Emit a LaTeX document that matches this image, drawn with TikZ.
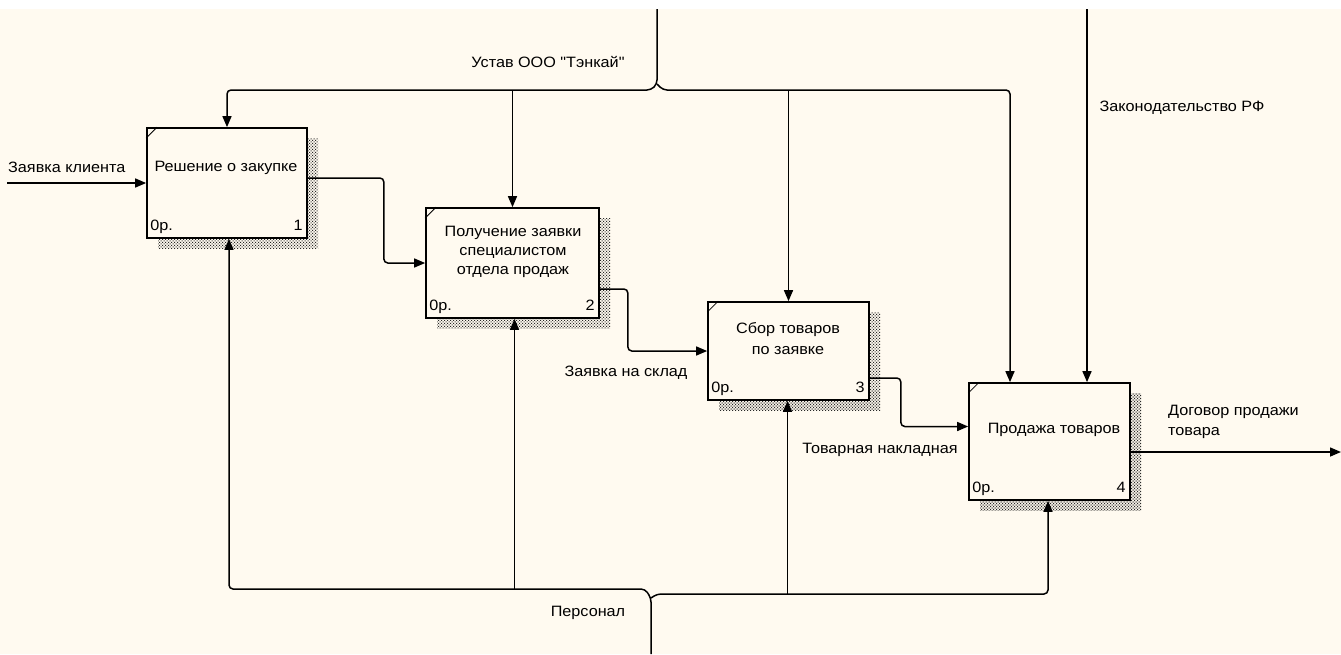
\documentclass[tikz,border=0pt]{standalone}
\usepackage{fontspec}
\setmainfont[FakeStretch=1.08, Ligatures=TeXOff]{Liberation Sans}
\usetikzlibrary{arrows.meta,calc,patterns}
\definecolor{paper}{RGB}{255,250,240}

% checkered shadow of the activity boxes
\pgfdeclarepatternformonly{shadowdots}{\pgfpoint{-1pt}{-1pt}}{\pgfpoint{4pt}{4pt}}{\pgfpoint{3pt}{3pt}}{%
  \pgfpathrectangle{\pgfpointorigin}{\pgfpoint{1.1pt}{1.1pt}}%
  \pgfpathrectangle{\pgfpoint{1.5pt}{1.5pt}}{\pgfpoint{1.1pt}{1.1pt}}%
  \pgfusepath{fill}}

\tikzset{
  procbox/.style={draw, line width=1.7pt, fill=paper, inner sep=0pt,
    preaction={pattern=shadowdots, pattern color=black!85,
      transform canvas={shift={(11pt,-10pt)}}}},
  flow/.style={line width=1.5pt, rounded corners=4pt, -{Triangle[length=11pt,width=9pt]}},
  lbl/.style={font=\fontsize{15}{19}\selectfont, inner sep=0pt},
}

\begin{document}
\begin{tikzpicture}[x=1pt,y=-1pt]
  \useasboundingbox (0,0) rectangle (1341,654);
  \fill[white] (0,0) rectangle (1341,9);
  \fill[paper] (0,9) rectangle (1341,654);

  % Activity boxes
  \node[procbox, minimum width=160pt, minimum height=110pt] (b1) at (227,183) {};
  \node[procbox, minimum width=173pt, minimum height=110pt] (b2) at (512.5,263) {};
  \node[procbox, minimum width=161pt, minimum height=98pt] (b3) at (788.5,351) {};
  \node[procbox, minimum width=161pt, minimum height=117pt] (b4) at (1049.5,441.5) {};
  \foreach \b in {b1,b2,b3,b4}
    \draw[line width=0.8pt] ($(\b.north west)+(0,11)$) -- ($(\b.north west)+(11,0)$);

  % Box titles
  \node[lbl] (b1t) at (226,168) {Решение о закупке};
  \node[lbl, align=center] (b2t) at (513,252) {Получение заявки\\специалистом\\отдела продаж};
  \node[lbl, align=center, font=\fontsize{15}{21}\selectfont] (b3t) at (788,339) {Сбор товаров\\по заявке};
  \node[lbl] (b4t) at (1054,430) {Продажа товаров};

  % Box numbers
  \foreach \b/\n in {b1/1,b2/2,b3/3,b4/4} {
    \node[lbl, anchor=base west] (\b o) at ($(\b.south west)+(4,-8)$) {0р.};
    \node[lbl, anchor=base east] (\b n) at ($(\b.south east)+(-5,-8)$) {\n};
  }

  % Inputs and outputs
  \coordinate (in1) at (7,183);
  \coordinate (out4) at (1341,452);
  \draw[flow] (in1) -- (b1.west);
  \draw[flow] ($(b1.east)+(0,-5)$) -- ++(76,0) |- (b2.west);
  \draw[flow] ($(b2.east)+(0,26)$) -- ++(28,0) |- (b3.west);
  \draw[flow] ($(b3.east)+(0,27)$) -- ++(31,0) |- ($(b4.west)+(0,-15)$);
  \draw[flow] ($(b4.east)+(0,10.5)$) -- (out4);

  % Controls
  \coordinate (ctop) at (657,9);
  \coordinate (cbus) at (0,90);
  \coordinate (ltop) at (1087,9);
  \draw[flow] (ctop) -- (657,84) -- (651,90) -| (b1.north);
  \draw[flow] (657,84) -- (663,90) -| ($(b4.north)+(-39.5,0)$);
  \draw[flow] (b2.north |- cbus) -- (b2.north);
  \draw[flow] (b3.north |- cbus) -- (b3.north);
  \draw[flow] (ltop) -- (ltop |- b4.north);

  % Mechanisms
  \coordinate (mbot) at (651,654);
  \coordinate (mbusl) at (0,589);
  \coordinate (mbusr) at (0,594);
  \draw[flow] (mbot) -- (651,598) -- (645,589) -| ($(b1.south)+(2,0)$);
  \draw[flow] (651,598) -- (657,594) -| ($(b4.south)+(-1.5,0)$);
  \draw[flow] ($(b2.south |- mbusl)+(2,0)$) -- ($(b2.south)+(2,0)$);
  \draw[flow] ($(b3.south |- mbusr)+(-1,0)$) -- ($(b3.south)+(-1,0)$);

  % Arrow labels
  \node[lbl, anchor=west] (lin) at (8,167) {Заявка клиента};
  \node[lbl] (lustav) at (548,62) {Устав ООО "Тэнкай"};
  \node[lbl] (llaw) at (1182,108) {Законодательство РФ};
  \node[lbl] (lsklad) at (626,373) {Заявка на склад};
  \node[lbl] (lnakl) at (880,450) {Товарная накладная};
  \node[lbl, anchor=north west, align=left, font=\fontsize{15}{20}\selectfont] (ldog) at (1168,405) {Договор продажи\\товара};
  \node[lbl] (lpers) at (588,613) {Персонал};
\end{tikzpicture}
\end{document}
